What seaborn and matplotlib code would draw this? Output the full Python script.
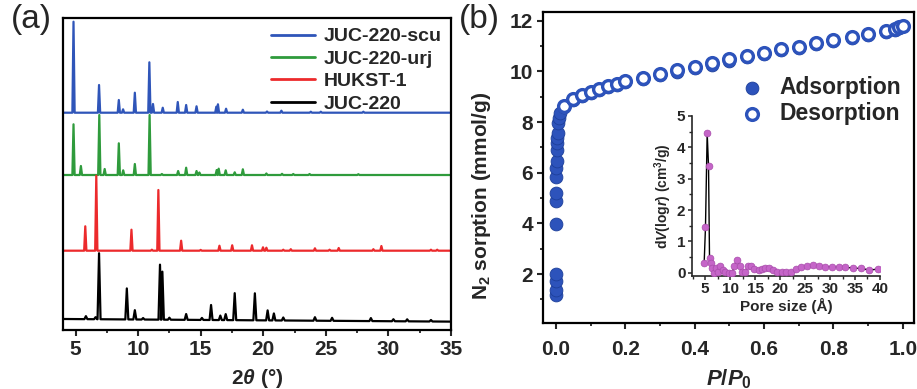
import numpy as np
import pandas as pd
import matplotlib
matplotlib.use("Agg")
import matplotlib.pyplot as plt
from matplotlib.ticker import MultipleLocator, FormatStrFormatter
from matplotlib.font_manager import FontProperties
import seaborn as sns

# ---- (a) PXRD peak lists: position (deg 2theta), height (arb.) ----
scu_pos = [4.84, 6.88, 8.46, 8.80, 9.74, 10.90, 11.19, 11.97, 13.17, 13.84, 14.67,
           16.25, 16.38, 17.03, 18.37, 20.3, 21.45, 23.8, 24.6, 28.0]
scu_h = [91, 27.7, 12.7, 3.4, 20, 50.4, 8.7, 5, 10.7, 7.7, 6.4, 6, 8.4, 4, 3, 1.2, 2, 1, 1, 1]

urj_pos = [4.84, 5.43, 6.90, 7.33, 8.46, 8.81, 9.74, 10.92, 11.9, 13.20, 13.84, 14.67,
           14.9, 16.28, 16.44, 17.00, 17.72, 18.37, 20.25, 21.5, 22.4, 23.7, 27.6]
urj_h = [50.7, 9, 60, 6, 31.7, 4.7, 11, 60, 1, 4, 7.3, 4, 2.5, 5, 6.3, 4.7, 2.7, 5.7,
         1.5, 1.2, 1, 1, 0.8]

hukst_pos = [5.78, 6.66, 9.47, 11.10, 11.62, 13.44, 15.0, 16.50, 17.52, 19.10, 19.98,
             20.25, 21.6, 22.2, 24.13, 25.3, 26.03, 28.8, 29.44, 33.4, 33.9]
hukst_h = [24.4, 75, 21, 1, 60.7, 10, 0.8, 5, 5.4, 5.4, 3.4, 3, 1, 1.5, 2.4, 1, 2.7,
           1.5, 4.7, 1, 1]

juc_pos = [5.83, 6.60, 6.88, 9.10, 9.74, 10.40, 11.75, 11.94, 12.50, 13.84, 15.10,
           15.83, 16.57, 17.00, 17.72, 19.33, 20.35, 20.85, 21.60, 24.13, 25.50,
           28.60, 30.40, 31.50, 33.40]
juc_h = [3, 2, 66, 31, 9.3, 1.5, 55, 48, 2, 5.8, 2, 15, 4.5, 6, 27, 27, 10, 7, 3,
         3.5, 3, 3, 2, 2, 1.5]

# baselines (stack offsets) of each pattern
offsets = {"JUC-220-scu": 217.3, "JUC-220-urj": 155.0, "HUKST-1": 79.3, "JUC-220": 11.0}

# ---- (b) N2 isotherm ----
ads_low_x = [0.001, 0.001, 0.001, 0.001, 0.001, 0.002, 0.002, 0.002, 0.002, 0.003,
             0.003, 0.004, 0.004, 0.005, 0.006, 0.008, 0.012]
ads_low_y = [1.18, 1.38, 1.71, 2.01, 3.98, 4.90, 5.22, 5.82, 6.18, 6.47, 6.90, 7.17,
             7.36, 7.58, 7.95, 8.15, 8.37]
iso_x = [0.025, 0.049, 0.075, 0.10, 0.125, 0.15, 0.176, 0.20, 0.25, 0.30, 0.35, 0.40,
         0.45, 0.50, 0.55, 0.60, 0.65, 0.70, 0.75, 0.80, 0.853, 0.90, 0.95, 0.976,
         0.99, 1.0]
des_y = [8.64, 8.90, 9.07, 9.20, 9.32, 9.43, 9.52, 9.61, 9.74, 9.90, 10.04, 10.19,
         10.32, 10.48, 10.61, 10.75, 10.87, 10.98, 11.11, 11.24, 11.35, 11.48, 11.60,
         11.66, 11.74, 11.80]
ads_y = [8.60, 8.86, 9.03, 9.16, 9.28, 9.39, 9.48, 9.57, 9.70, 9.86, 9.99, 10.13,
         10.26, 10.42, 10.56, 10.70, 10.83, 10.94, 11.07, 11.20, 11.31, 11.44, 11.56,
         11.62, 11.70, 11.78]

# ---- inset: pore size distribution ----
pore_x = [4.8, 5.06, 5.4, 5.67, 5.87, 6.07, 6.4, 6.67, 7.15, 7.47, 8.0, 8.47, 9.0, 9.7,
          10.4, 10.8, 11.36, 11.9, 12.4, 13.0, 13.6, 14.2, 14.8, 15.7, 16.4, 17.0, 17.7,
          18.6, 19.4, 20.3, 21.2, 22.2, 23.2, 24.2, 25.4, 26.5, 27.7, 28.9, 30.3, 31.8,
          33.1, 34.7, 36.3, 37.9, 39.6]
pore_y = [0.33, 1.45, 4.46, 3.41, 0.46, 0.33, 0.14, 0.0, 0.14, 0.02, 0.23, 0.08, 0.02,
          0.0, 0.0, 0.22, 0.40, 0.22, 0.04, 0.04, 0.22, 0.22, 0.12, 0.09, 0.11, 0.14,
          0.14, 0.09, 0.04, 0.02, 0.02, 0.02, 0.12, 0.18, 0.21, 0.24, 0.21, 0.20, 0.18,
          0.18, 0.18, 0.15, 0.14, 0.09, 0.12]

sns.set_theme(style="ticks")
plt.rcParams["font.family"] = ["Liberation Sans", "DejaVu Sans"]
plt.rcParams["font.weight"] = "bold"
plt.rcParams["mathtext.fontset"] = "custom"
plt.rcParams["mathtext.rm"] = "Liberation Sans:bold"
plt.rcParams["mathtext.it"] = "Liberation Sans:italic:bold"
plt.rcParams["mathtext.bf"] = "Liberation Sans:bold"


def pattern(pos, h, base, width, x0=4.0, x1=35.0, slope=0.0):
    # spike profile: baseline -> apex -> baseline for every listed peak
    xs, ys = [x0], [base]
    for p, v in sorted(zip(pos, h)):
        b = base - slope * (p - x0)
        xs += [p - width, p, p + width]
        ys += [b, b + v, b]
    xs.append(x1)
    ys.append(base - slope * (x1 - x0))
    return pd.DataFrame({"x": xs, "y": ys})


fig = plt.figure(figsize=(9.17, 3.89), dpi=100)
ax1 = fig.add_axes([0.0687, 0.1517, 0.4231, 0.802])
ax2 = fig.add_axes([0.5921, 0.1697, 0.4046, 0.7995])
ax3 = fig.add_axes([0.7543, 0.2905, 0.2053, 0.4113])

series = [("JUC-220-scu", scu_pos, scu_h, "#2f55b9", 0.09),
          ("JUC-220-urj", urj_pos, urj_h, "#2f9b3c", 0.09),
          ("HUKST-1", hukst_pos, hukst_h, "#ec2a2c", 0.09),
          ("JUC-220", juc_pos, juc_h, "#000000", 0.12)]
for name, pos, h, col, w in series:
    slope = 0.085 if name == "JUC-220" else 0.0
    df = pattern(pos, h, offsets[name], w, slope=slope)
    sns.lineplot(data=df, x="x", y="y", ax=ax1, color=col, lw=1.6, label=name,
                 estimator=None, sort=False)

ax1.set_xlim(4, 35)
ax1.set_ylim(0, 312)
ax1.set_yticks([])
ax1.xaxis.set_major_locator(MultipleLocator(5))
ax1.xaxis.set_minor_locator(MultipleLocator(2.5))
ax1.set_xlabel(r"2$\theta$ (°)", fontsize=15, fontweight="bold", labelpad=6)
ax1.set_ylabel("")
fp_a = FontProperties(family="Liberation Sans", weight="bold", size=14)
leg = ax1.legend(loc="upper right", frameon=False, prop=fp_a,
                 handlelength=2.3, handletextpad=0.4, labelspacing=0.25,
                 borderaxespad=0.1, bbox_to_anchor=(1.0, 1.0))
for t in leg.get_texts():
    t.set_fontproperties(fp_a)
for l in leg.get_lines():
    l.set_linewidth(2)

# (b) isotherm
blue = "#2d53bb"
ads_df = pd.DataFrame({"x": ads_low_x + iso_x, "y": ads_low_y + ads_y})
des_df = pd.DataFrame({"x": iso_x, "y": des_y})
sns.scatterplot(data=ads_df, x="x", y="y", ax=ax2, s=85, color=blue, edgecolor="#1d3f9a",
                linewidth=0.6, label="Adsorption", zorder=3)
sns.scatterplot(data=des_df, x="x", y="y", ax=ax2, s=72, facecolor="white",
                edgecolor=blue, linewidth=2.4, label="Desorption", zorder=4)
ax2.set_xlim(-0.037, 1.032)
ax2.set_ylim(0.07, 12.35)
ax2.xaxis.set_major_locator(MultipleLocator(0.2))
ax2.xaxis.set_minor_locator(MultipleLocator(0.1))
ax2.yaxis.set_major_locator(MultipleLocator(2))
ax2.yaxis.set_minor_locator(MultipleLocator(1))
ax2.xaxis.set_major_formatter(FormatStrFormatter("%.1f"))
ax2.set_xlabel(r"$P$/$P_0$", fontsize=16, fontweight="bold", labelpad=6)
ax2.set_ylabel(r"N$_2$ sorption (mmol/g)", fontsize=15, fontweight="bold")
ax2.yaxis.set_label_coords(-0.135, 0.41)
fp_b = FontProperties(family="Liberation Sans", weight="bold", size=16.5)
leg2 = ax2.legend(loc="upper right", frameon=False, prop=fp_b,
                  handletextpad=0.2, labelspacing=0.15, borderaxespad=0.0,
                  bbox_to_anchor=(0.99, 0.825), markerscale=1.0)
for t in leg2.get_texts():
    t.set_fontproperties(fp_b)

# inset
sns.lineplot(x=pore_x, y=pore_y, ax=ax3, color="black", lw=1.0, zorder=2)
sns.scatterplot(x=pore_x, y=pore_y, ax=ax3, s=24, color="#c565c8", edgecolor="#a84cab",
                linewidth=0.5, zorder=3)
ax3.set_xlim(2.3, 40)
ax3.set_ylim(-0.1, 5.0)
ax3.xaxis.set_major_locator(MultipleLocator(5))
ax3.xaxis.set_minor_locator(MultipleLocator(2.5))
ax3.yaxis.set_major_locator(MultipleLocator(1))
ax3.yaxis.set_minor_locator(MultipleLocator(0.5))
ax3.set_xlabel("Pore size (Å)", fontsize=11, fontweight="bold", labelpad=1)
ax3.set_ylabel(r"d$V$(log$r$) (cm$^3$/g)", fontsize=10, fontweight="bold", labelpad=2)
ax3.patch.set_alpha(0)
for s in ["top", "right"]:
    ax3.spines[s].set_visible(False)
for s in ["left", "bottom"]:
    ax3.spines[s].set_linewidth(1.2)
ax3.tick_params(which="major", direction="out", length=3, width=1.1, labelsize=11, pad=1.5)
ax3.tick_params(which="minor", direction="out", length=2, width=1.0)

for ax in (ax1, ax2):
    for s in ax.spines.values():
        s.set_visible(True)
        s.set_linewidth(1.6)
        s.set_color("black")
    ax.tick_params(which="major", direction="out", length=4, width=1.5, labelsize=15,
                   pad=3)
    ax.tick_params(which="minor", direction="out", length=2.5, width=1.3)
ax2.tick_params(axis="x", pad=8)
for ax in (ax1, ax2, ax3):
    for lab in ax.get_xticklabels() + ax.get_yticklabels():
        lab.set_fontweight("bold")

fig.text(0.012, 0.99, "(a)", fontsize=24, fontweight="normal", va="top")
fig.text(0.500, 0.99, "(b)", fontsize=24, fontweight="normal", va="top")

fig.savefig("out.png", dpi=100)
